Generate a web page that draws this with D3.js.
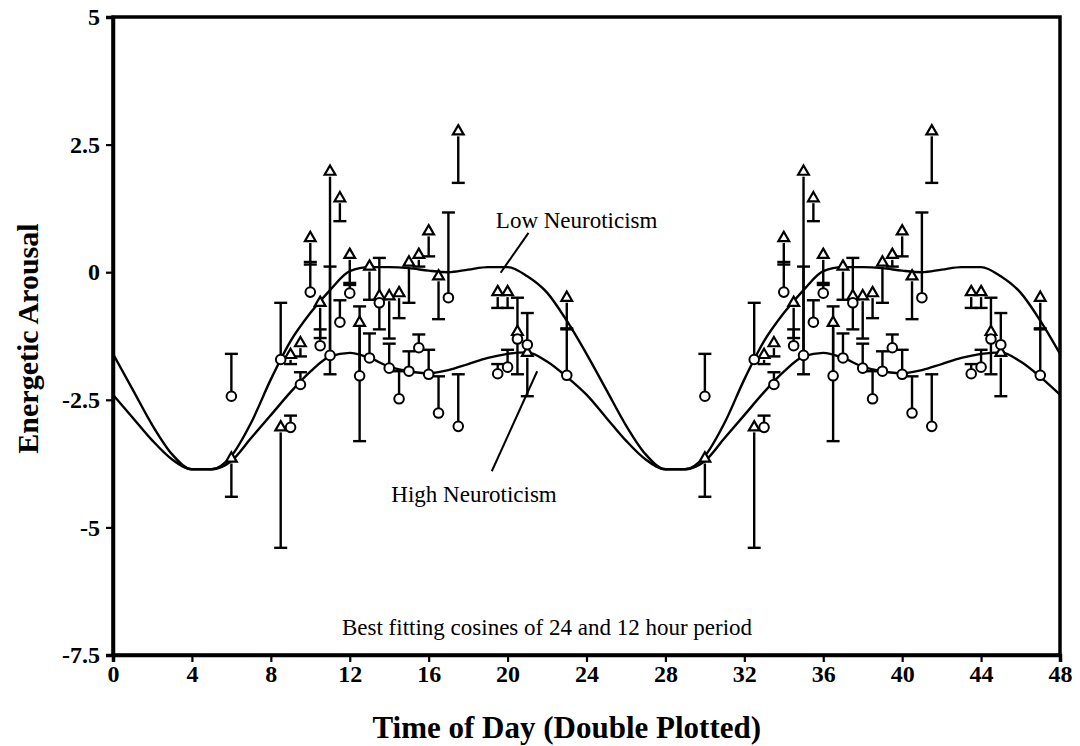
<!DOCTYPE html>
<html>
<head>
<meta charset="utf-8">
<script src="https://d3js.org/d3.v7.min.js"></script>
<title>Energetic Arousal</title>
<style>
body { margin: 0; background: #fff; }
text { font-family: "Liberation Serif", "Times New Roman", serif; }
</style>
</head>
<body>
<script>

var width = 1080,
    height = 746;

// fitted curves, one day
var fitHours = [0,1,2,3,4,5,6,7,8,9,10,11,12,13,14,15,16,17,18,19,20,21,22,23,24];
var lowFit  = [-1.6,-2.3,-3.0,-3.57,-3.86,-3.86,-3.6,-2.95,-2.1,-1.35,-0.8,-0.35,0.02,0.1,0.1,0.08,0.03,0.0,0.05,0.1,0.1,-0.08,-0.4,-0.95,-1.6];
var highFit = [-2.4,-2.85,-3.3,-3.67,-3.86,-3.86,-3.7,-3.25,-2.8,-2.35,-1.95,-1.65,-1.58,-1.68,-1.85,-1.94,-1.98,-1.92,-1.8,-1.68,-1.6,-1.57,-1.75,-2.05,-2.4];

// low neuroticism (triangles): hour, mean, lower end of error bar
var lowHours = [6,8.5,9,9.5,10,10.5,11,11.5,12,12.5,13,13.5,14,14.5,15,15.5,16,16.5,17.5,19.5,20,20.5,21,23];
var lowMeans = [-3.65,-3.04,-1.62,-1.39,0.67,-0.6,1.97,1.45,0.34,-0.99,0.11,-0.47,-0.47,-0.41,0.19,0.34,0.8,-0.08,2.76,-0.39,-0.39,-1.17,-1.58,-0.5];
var lowErr   = [-4.4,-5.4,-1.8,-1.65,0.15,-1.29,-2.0,1.0,-0.21,-3.31,-0.54,-1.12,-1.3,-0.9,-0.6,0.11,0.31,-0.92,1.75,-0.7,-0.7,-2.0,-2.43,-1.12];

// high neuroticism (circles): hour, mean, upper end of error bar
var highHours = [6,8.5,9,9.5,10,10.5,11,11.5,12,12.5,13,13.5,14,14.5,15,15.5,16,16.5,17,17.5,19.5,20,20.5,21,23];
var highMeans = [-2.43,-1.71,-3.04,-2.2,-0.39,-1.44,-1.63,-0.98,-0.41,-2.03,-1.68,-0.6,-1.88,-2.48,-1.94,-1.48,-2.0,-2.76,-0.5,-3.02,-1.99,-1.86,-1.31,-1.42,-2.02];
var highErr   = [-1.6,-0.6,-2.81,-1.96,0.2,-1.12,0.11,-0.55,-0.25,-0.67,-1.2,0.28,-1.4,-1.94,-1.55,-1.22,-1.52,-2.04,1.17,-2.0,-1.8,-1.52,-0.5,-0.8,-1.1];

var xTicks = [0,4,8,12,16,20,24,28,32,36,40,44,48];
var yTicks = [5,2.5,0,-2.5,-5,-7.5];

// double plotted: the same day again from 24 to 48
function twice(hours, a, b) {
  var out = [];
  [0, 24].forEach(function(off) {
    hours.forEach(function(h, i) {
      out.push({ h: h + off, v: a[i], e: b ? b[i] : null });
    });
  });
  return out;
}

var svg = d3.select("body")
  .append("svg")
  .attr("width", width)
  .attr("height", height);

var x = d3.scaleLinear().domain([0, 48]).range([113, 1060]);
var y = d3.scaleLinear().domain([-7.5, 5]).range([655, 17]);

// curves
var line = d3.line()
  .x(function(d) { return x(d.h); })
  .y(function(d) { return y(d.v); })
  .curve(d3.curveMonotoneX);

[lowFit, highFit].forEach(function(vals) {
  var pts = twice(fitHours, vals).filter(function(d, i) { return !(i == 25 && d.h == 24); });
  svg.append("path")
    .datum(pts)
    .attr("d", line)
    .attr("fill", "none")
    .attr("stroke", "#000")
    .attr("stroke-width", 2.4);
});

// error bars
var lowPts = twice(lowHours, lowMeans, lowErr);
var highPts = twice(highHours, highMeans, highErr);

function bars(pts, dir) {
  var g = svg.append("g").attr("stroke", "#000").attr("stroke-width", 2.4);
  g.selectAll("line.bar")
    .data(pts)
    .enter().append("line")
    .attr("x1", function(d) { return x(d.h); })
    .attr("x2", function(d) { return x(d.h); })
    .attr("y1", function(d) { return y(d.v) + dir * 5; })
    .attr("y2", function(d) { return y(d.e); });
  g.selectAll("line.cap")
    .data(pts)
    .enter().append("line")
    .attr("x1", function(d) { return x(d.h) - 6.5; })
    .attr("x2", function(d) { return x(d.h) + 6.5; })
    .attr("y1", function(d) { return y(d.e); })
    .attr("y2", function(d) { return y(d.e); });
}
bars(lowPts, 1);
bars(highPts, -1);

// markers
svg.append("g").selectAll("path")
  .data(lowPts)
  .enter().append("path")
  .attr("d", d3.symbol(d3.symbolTriangle).size(50))
  .attr("transform", function(d) { return "translate(" + x(d.h) + "," + y(d.v) + ")"; })
  .attr("fill", "#fff")
  .attr("stroke", "#000")
  .attr("stroke-width", 2.2);

svg.append("g").selectAll("circle")
  .data(highPts)
  .enter().append("circle")
  .attr("cx", function(d) { return x(d.h); })
  .attr("cy", function(d) { return y(d.v); })
  .attr("r", 4.8)
  .attr("fill", "#fff")
  .attr("stroke", "#000")
  .attr("stroke-width", 2);

// frame and axes
svg.append("rect")
  .attr("x", x(0)).attr("y", y(5))
  .attr("width", x(48) - x(0)).attr("height", y(-7.5) - y(5))
  .attr("fill", "none").attr("stroke", "#000").attr("stroke-width", 3.5);

var yAxis = svg.append("g")
  .attr("transform", "translate(" + x(0) + ",0)")
  .call(d3.axisLeft(y).tickValues(yTicks).tickSizeOuter(0).tickSize(7).tickPadding(6)
    .tickFormat(function(d) { return String(d); }));

var xAxis = svg.append("g")
  .attr("transform", "translate(0," + y(-7.5) + ")")
  .call(d3.axisBottom(x).tickValues(xTicks).tickSizeOuter(0).tickSize(7).tickPadding(3)
    .tickFormat(function(d) { return String(d); }));

[yAxis, xAxis].forEach(function(a) {
  a.select(".domain").attr("stroke-width", 3.5);
  a.selectAll(".tick line").attr("stroke-width", 2.2);
  a.selectAll("text")
    .attr("fill", "#000")
    .style("font-family", '"Liberation Serif", serif')
    .style("font-size", "24px")
    .style("font-weight", "bold");
});

// titles
svg.append("text")
  .attr("transform", "translate(38," + y(-1.3) + ") rotate(-90)")
  .attr("text-anchor", "middle")
  .style("font-size", "30px")
  .style("font-weight", "bold")
  .text("Energetic Arousal");

svg.append("text")
  .attr("x", x(23))
  .attr("y", 738)
  .attr("text-anchor", "middle")
  .style("font-size", "31px")
  .style("font-weight", "bold")
  .text("Time of Day (Double Plotted)");

// annotations
svg.append("text")
  .attr("x", x(22))
  .attr("y", y(-7.1))
  .attr("text-anchor", "middle")
  .style("font-size", "23px")
  .text("Best fitting cosines of 24 and 12 hour period");

svg.append("text")
  .attr("x", x(23.5))
  .attr("y", y(0.87))
  .attr("text-anchor", "middle")
  .style("font-size", "23px")
  .text("Low Neuroticism");

svg.append("text")
  .attr("x", x(18.3))
  .attr("y", y(-4.5))
  .attr("text-anchor", "middle")
  .style("font-size", "23px")
  .text("High Neuroticism");

svg.append("line")
  .attr("x1", x(21.06)).attr("y1", y(0.77))
  .attr("x2", x(19.65)).attr("y2", y(-0.01))
  .attr("stroke", "#000").attr("stroke-width", 2);

svg.append("line")
  .attr("x1", x(21.5)).attr("y1", y(-1.94))
  .attr("x2", x(19.2)).attr("y2", y(-3.9))
  .attr("stroke", "#000").attr("stroke-width", 2);

</script>
</body>
</html>
